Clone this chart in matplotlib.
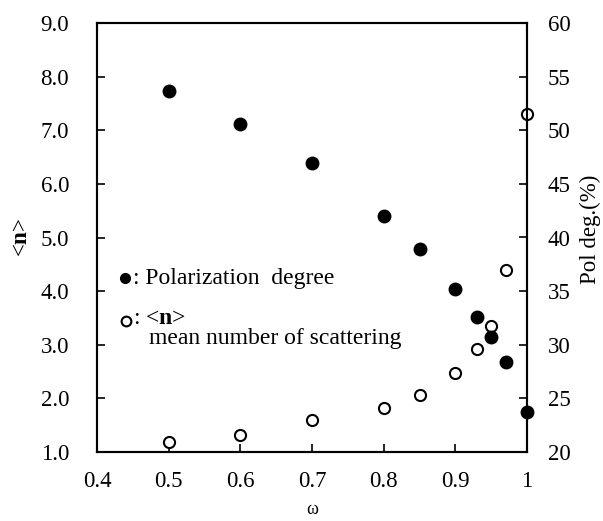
import numpy as np
import matplotlib
matplotlib.use("Agg")
import matplotlib.pyplot as plt

plt.rcParams['font.family'] = ['Liberation Serif', 'DejaVu Serif']
plt.rcParams['mathtext.fontset'] = 'custom'
plt.rcParams['mathtext.rm'] = 'Liberation Serif'
plt.rcParams['mathtext.bf'] = 'Liberation Serif:bold'

omega = [0.5, 0.6, 0.7, 0.8, 0.85, 0.9, 0.93, 0.95, 0.97, 1.0]
pol_deg = [53.7, 50.6, 46.9, 42.0, 38.9, 35.2, 32.6, 30.7, 28.4, 23.7]
mean_n = [1.19, 1.32, 1.60, 1.82, 2.06, 2.48, 2.92, 3.35, 4.40, 7.30]

x_ticks = [0.4, 0.5, 0.6, 0.7, 0.8, 0.9, 1.0]
x_labels = ['0.4', '0.5', '0.6', '0.7', '0.8', '0.9', '1']
n_ticks = np.arange(1.0, 9.01, 1.0)
pol_ticks = np.arange(20, 61, 5)

fig = plt.figure(figsize=(6.03, 5.21), dpi=100)
ax = fig.add_axes([97 / 603, 1 - 452 / 521, 430 / 603, 429 / 521])
ax2 = ax.twinx()

fs = 16.5
lfs = 17

ax.plot(omega, mean_n, 'o', mfc='white', mec='black', mew=1.5, ms=8,
        clip_on=False, zorder=5)
ax2.plot(omega, pol_deg, 'o', color='black', ms=9, clip_on=False, zorder=5)

ax.set_xlim(0.4, 1.0)
ax.set_ylim(1.0, 9.0)
ax2.set_ylim(20, 60)

ax.set_xticks(x_ticks)
ax.set_xticklabels(x_labels)
ax.set_yticks(n_ticks)
ax.set_yticklabels(['%.1f' % v for v in n_ticks])
ax2.set_yticks(pol_ticks)

ax.tick_params(axis='x', direction='in', length=6, width=1.2, pad=14, labelsize=fs)
ax.tick_params(axis='y', direction='in', length=6, width=1.2, pad=20, labelsize=fs)
ax2.tick_params(axis='y', direction='in', length=6, width=1.2, pad=15, labelsize=fs)

for a in (ax, ax2):
    for s in a.spines.values():
        s.set_linewidth(1.5)

ax.set_xlabel('ω', fontsize=13, va='center')
ax.xaxis.set_label_coords(0.5, -0.135)
ax.set_ylabel(r'<$\mathbf{n}$>', fontsize=fs, va='center')
ax.yaxis.set_label_coords(-0.175, 0.50)
ax2.set_ylabel('Pol deg.(%)', fontsize=fs, va='center')
ax2.yaxis.set_label_coords(1.147, 0.52)

# legend drawn by hand
ax.plot([0.065], [0.405], 'o', color='black', ms=7, transform=ax.transAxes,
        clip_on=False)
ax.text(0.083, 0.405, ': Polarization  degree', transform=ax.transAxes,
        fontsize=lfs, va='center', ha='left')
ax.plot([0.067], [0.305], 'o', mfc='white', mec='black', mew=1.5, ms=7,
        transform=ax.transAxes, clip_on=False)
ax.text(0.083, 0.312, r': <$\mathbf{n}$>', transform=ax.transAxes,
        fontsize=lfs, va='center', ha='left')
ax.text(0.12, 0.265, 'mean number of scattering', transform=ax.transAxes,
        fontsize=lfs, va='center', ha='left')

fig.savefig('out.png', dpi=100)
